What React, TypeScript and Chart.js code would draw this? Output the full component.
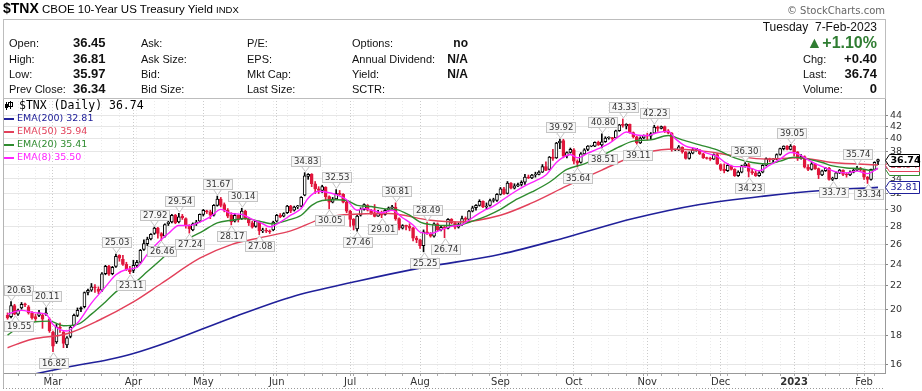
import React, { useEffect, useRef } from 'react';
import { Chart, registerables } from 'chart.js';

Chart.register(...registerables);

// ---------- data ----------
const SYMBOL = '$TNX';
const FIRST_DAY = '2022-02-09';
const LAST_DAY = '2023-02-07';
const MARKET_HOLIDAYS = ['2022-02-21', '2022-04-15', '2022-05-30', '2022-06-20', '2022-07-04', '2022-09-05', '2022-11-24', '2022-12-26', '2023-01-02', '2023-01-16'];

const OPEN = [
  19.5, 19.4, 20.3, 19.6, 20.1, 20.4, 20.2, 19.7, 19.4, 19.5,
  19.5, 19.6, 19.2, 18.2, 17.5, 18.6, 18.2, 17.3, 17.9, 18.7,
  19.5, 20.1, 20.2, 21.4, 21.6, 21.9, 21.7, 21.6, 23.1, 23.8,
  23.1, 23.8, 24.9, 24.5, 24.0, 23.5, 23.4, 23.9, 24.2, 25.5,
  26.1, 26.6, 27.2, 27.8, 27.2, 26.9, 28.3, 28.5, 29.3, 28.5,
  29.2, 28.9, 28.1, 27.6, 28.3, 28.6, 29.4, 29.8, 29.7, 29.3,
  30.5, 31.3, 30.6, 29.9, 29.3, 28.6, 29.3, 28.9, 29.8, 28.9,
  28.4, 28.0, 28.5, 27.5, 27.5, 27.5, 27.6, 28.6, 29.3, 29.2,
  29.6, 30.4, 29.9, 30.3, 30.4, 31.8, 34.3, 34.6, 33.3, 32.6,
  32.4, 32.8, 31.6, 30.9, 31.3, 32.0, 31.9, 30.9, 29.8, 28.8,
  27.7, 29.3, 30.0, 30.5, 29.9, 29.6, 29.2, 29.6, 29.4, 29.9,
  30.2, 30.3, 28.9, 27.8, 28.1, 28.0, 27.8, 26.7, 26.5, 25.9,
  27.4, 27.2, 26.9, 28.3, 27.6, 27.9, 27.8, 28.8, 28.4, 27.9,
  28.2, 28.9, 28.8, 29.8, 30.2, 30.5, 31.0, 30.3, 30.5, 31.1,
  31.1, 31.9, 32.6, 32.0, 33.4, 32.7, 33.0, 33.2, 33.5, 34.2,
  34.1, 34.5, 34.6, 34.9, 35.7, 35.3, 37.1, 37.0, 39.3, 39.7,
  37.3, 37.8, 38.2, 36.5, 36.3, 37.6, 38.3, 38.8, 38.8, 39.4,
  39.0, 39.5, 40.1, 40.1, 40.1, 41.3, 42.3, 42.1, 42.4, 41.0,
  40.3, 39.3, 40.1, 40.5, 40.4, 40.9, 41.9, 41.7, 42.0, 41.3,
  40.9, 38.2, 38.2, 38.6, 37.9, 36.9, 37.7, 38.3, 38.2, 37.6,
  37.0, 36.9, 36.8, 37.5, 36.0, 35.3, 35.1, 35.8, 35.3, 34.4,
  34.9, 35.8, 36.0, 35.0, 34.8, 34.4, 34.9, 35.9, 36.9, 36.7,
  36.8, 37.5, 38.4, 38.8, 38.3, 38.8, 37.9, 36.9, 37.2, 35.6,
  35.3, 36.1, 35.4, 34.5, 35.1, 35.5, 33.9, 34.0, 34.8, 35.2,
  34.6, 34.5, 34.9, 35.2, 35.5, 35.2, 34.2, 33.9, 35.3, 36.45,
];
const HIGH = [
  19.7, 20.63, 20.4, 20.0, 20.55, 20.5, 20.3, 19.8, 19.6, 19.9,
  19.6, 20.11, 19.3, 18.3, 18.8, 18.9, 18.3, 17.9, 18.7, 19.6,
  20.1, 20.2, 21.45, 21.7, 22.2, 22.1, 21.9, 23.2, 23.9, 23.9,
  23.8, 25.03, 24.95, 24.9, 24.2, 23.8, 24.4, 24.4, 25.5, 26.5,
  26.8, 27.2, 27.92, 27.9, 27.3, 28.3, 28.6, 29.4, 29.4, 29.54,
  29.4, 29.0, 28.2, 28.4, 28.7, 29.45, 30.0, 29.9, 29.9, 30.6,
  31.67, 31.5, 30.8, 30.1, 29.6, 29.5, 29.35, 30.14, 29.9, 29.0,
  28.6, 28.7, 28.6, 27.8, 27.8, 27.6, 28.6, 29.4, 29.5, 29.6,
  30.5, 30.5, 30.4, 30.5, 31.6, 34.83, 34.7, 34.7, 33.6, 32.9,
  33.1, 32.9, 31.7, 31.5, 32.53, 32.4, 32.0, 31.0, 29.9, 28.9,
  29.3, 30.2, 30.7, 30.6, 30.0, 30.6, 29.9, 29.8, 30.0, 30.3,
  30.5, 30.81, 29.0, 28.2, 28.15, 28.3, 27.9, 26.9, 26.6, 27.6,
  28.49, 27.3, 28.4, 28.4, 28.0, 28.1, 28.9, 28.9, 28.5, 28.4,
  29.2, 29.1, 29.9, 30.4, 30.6, 31.2, 31.05, 30.8, 31.3, 31.4,
  32.0, 32.8, 32.8, 33.6, 33.45, 33.3, 33.4, 33.7, 34.6, 34.5,
  34.6, 34.9, 35.1, 36.0, 36.4, 37.2, 38.3, 39.4, 39.92, 39.9,
  37.9, 38.5, 38.4, 36.7, 37.8, 38.4, 38.9, 38.9, 39.5, 39.6,
  40.8, 40.3, 40.3, 40.2, 41.4, 42.4, 43.33, 42.5, 42.45, 41.1,
  40.4, 40.3, 40.6, 40.9, 41.0, 42.23, 42.1, 42.1, 42.1, 41.5,
  41.0, 38.3, 38.9, 38.7, 37.95, 37.9, 38.5, 38.4, 38.3, 37.7,
  37.1, 37.1, 37.6, 37.7, 36.1, 36.1, 36.1, 35.9, 35.4, 35.1,
  35.9, 36.3, 36.2, 35.3, 35.1, 35.0, 36.0, 37.0, 36.95, 36.9,
  37.6, 38.5, 38.85, 38.9, 39.05, 38.9, 37.95, 37.5, 37.3, 36.0,
  36.3, 36.15, 35.5, 35.2, 35.6, 35.6, 34.2, 34.9, 35.3, 35.25,
  34.8, 35.1, 35.3, 35.74, 35.6, 35.3, 34.3, 35.35, 36.4, 36.81,
];
const LOW = [
  19.2, 19.3, 19.55, 19.5, 20.0, 20.2, 19.6, 19.2, 19.1, 19.4,
  18.5, 19.5, 18.2, 16.82, 17.4, 18.2, 17.1, 17.1, 17.8, 18.65,
  19.4, 19.8, 20.1, 21.2, 21.5, 21.4, 21.3, 21.5, 23.0, 22.95,
  23.0, 23.7, 24.3, 23.9, 23.4, 23.11, 23.2, 23.7, 24.1, 25.4,
  25.9, 26.5, 27.1, 26.7, 26.46, 26.8, 28.1, 28.4, 28.3, 28.4,
  28.8, 27.8, 27.24, 27.5, 28.1, 28.5, 29.2, 29.5, 28.9, 29.2,
  30.4, 30.3, 29.7, 29.0, 28.17, 28.5, 28.5, 28.8, 28.8, 28.1,
  27.8, 27.9, 27.08, 27.3, 27.3, 27.2, 27.5, 28.5, 29.0, 29.1,
  29.5, 29.6, 29.8, 30.1, 30.3, 31.7, 33.9, 32.9, 32.0, 32.0,
  32.1, 31.2, 30.05, 30.8, 31.2, 31.8, 30.8, 29.6, 28.0, 27.6,
  27.46, 29.2, 29.9, 29.8, 29.4, 29.1, 29.15, 29.01, 29.3, 29.8,
  30.0, 28.7, 27.6, 27.7, 27.6, 27.5, 26.4, 26.2, 25.6, 25.25,
  27.1, 26.8, 26.8, 27.5, 27.5, 26.74, 27.7, 28.3, 27.7, 27.8,
  28.1, 28.6, 28.75, 29.7, 29.9, 30.4, 30.2, 30.0, 30.4, 30.9,
  31.0, 31.8, 31.9, 31.95, 32.6, 32.6, 32.9, 33.0, 33.2, 34.0,
  34.0, 34.2, 34.5, 34.85, 35.1, 35.2, 36.6, 36.9, 38.4, 37.0,
  37.0, 37.7, 36.1, 35.64, 36.2, 37.5, 38.1, 38.7, 38.7, 38.9,
  38.51, 39.4, 39.9, 39.6, 40.05, 41.2, 41.9, 41.6, 40.9, 40.1,
  39.11, 39.2, 40.0, 39.8, 39.9, 40.8, 41.2, 41.6, 41.0, 40.8,
  38.0, 38.1, 38.1, 37.7, 36.8, 36.8, 37.6, 38.0, 37.5, 36.9,
  36.8, 36.6, 36.75, 36.0, 35.1, 34.8, 35.0, 35.2, 34.3, 34.3,
  34.8, 35.6, 34.23, 34.6, 34.3, 34.3, 34.8, 35.8, 36.4, 36.3,
  36.7, 37.4, 38.2, 38.2, 38.2, 37.3, 36.6, 36.8, 35.5, 35.1,
  35.2, 35.3, 34.0, 34.4, 35.0, 33.8, 33.73, 33.95, 34.7, 34.4,
  34.2, 34.4, 34.8, 35.1, 35.0, 33.9, 33.34, 33.8, 35.2, 35.97,
];
const CLOSE = [
  19.3, 20.3, 19.6, 19.9, 20.4, 20.35, 19.7, 19.3, 19.25, 19.7,
  19.2, 19.7, 18.3, 17.2, 18.6, 18.5, 17.4, 17.8, 18.6, 19.5,
  19.9, 20.0, 21.4, 21.6, 21.9, 21.8, 21.5, 23.1, 23.8, 23.05,
  23.7, 24.8, 24.6, 24.0, 23.5, 23.3, 23.9, 24.2, 25.4, 26.1,
  26.6, 27.1, 27.8, 27.2, 26.9, 28.2, 28.5, 29.3, 28.4, 29.1,
  29.0, 28.1, 27.7, 28.3, 28.5, 29.4, 29.9, 29.7, 29.3, 30.5,
  31.3, 30.5, 29.9, 29.2, 28.5, 29.3, 28.8, 29.8, 28.9, 28.4,
  27.9, 28.6, 27.5, 27.55, 27.45, 27.4, 28.5, 29.3, 29.1, 29.5,
  30.4, 29.8, 30.3, 30.45, 31.5, 34.4, 34.6, 33.3, 32.6, 32.4,
  32.9, 31.6, 30.9, 31.3, 32.0, 31.9, 30.9, 29.8, 28.8, 28.1,
  29.2, 30.0, 30.6, 29.9, 29.6, 29.15, 29.6, 29.3, 29.9, 30.2,
  30.3, 28.9, 27.8, 28.1, 28.0, 27.8, 26.7, 26.5, 25.9, 27.4,
  27.2, 26.9, 28.3, 27.6, 27.9, 27.8, 28.8, 28.4, 27.9, 28.2,
  28.9, 28.8, 29.8, 30.2, 30.5, 31.0, 30.3, 30.4, 31.1, 31.15,
  31.9, 32.6, 31.95, 33.4, 32.7, 33.0, 33.2, 33.5, 34.2, 34.1,
  34.5, 34.55, 34.9, 35.7, 35.15, 37.1, 36.9, 39.3, 39.6, 37.3,
  37.8, 38.3, 36.5, 36.2, 37.6, 38.2, 38.8, 38.85, 39.4, 39.0,
  39.5, 40.1, 40.15, 40.0, 41.3, 42.3, 42.2, 42.4, 41.0, 40.3,
  39.3, 40.1, 40.5, 40.4, 40.8, 41.9, 41.7, 42.0, 41.3, 40.9,
  38.2, 38.25, 38.7, 37.9, 36.9, 37.7, 38.2, 38.35, 37.6, 37.0,
  36.9, 36.8, 37.5, 36.1, 35.3, 35.1, 35.9, 35.3, 34.4, 34.9,
  35.8, 36.1, 35.0, 34.8, 34.4, 34.8, 35.9, 36.9, 36.7, 36.8,
  37.5, 38.4, 38.8, 38.3, 38.8, 37.9, 36.9, 37.2, 35.6, 35.3,
  36.1, 35.4, 34.5, 35.1, 35.5, 33.9, 34.0, 34.8, 35.2, 34.6,
  34.5, 34.9, 35.2, 35.5, 35.2, 34.2, 33.9, 35.3, 36.34, 36.74,
];

// moving averages (bar index, value)
const EMA200_IDX = [0, 17, 29, 36, 46, 64, 81, 100, 119, 141, 160, 179, 198, 217, 233, 249];
const EMA200_VAL = [15.0, 15.8, 16.3, 16.7, 17.5, 19.3, 21.0, 22.4, 23.7, 25.0, 26.8, 28.9, 30.6, 31.7, 32.4, 32.81];
const EMA50_IDX = [0, 7, 17, 26, 36, 44, 55, 64, 73, 81, 90, 95, 109, 121, 129, 141, 150, 160, 170, 179, 189, 198, 208, 217, 226, 236, 249];
const EMA50_VAL = [17.1, 17.7, 18.1, 19.1, 20.6, 22.2, 24.6, 26.0, 26.8, 27.5, 28.9, 29.3, 29.5, 28.7, 28.5, 29.3, 30.8, 33.0, 35.2, 37.2, 38.3, 38.1, 37.3, 36.8, 37.0, 36.3, 35.94];
const EMA20_IDX = [0, 4, 8, 12, 16, 20, 24, 28, 32, 36, 40, 44, 48, 52, 56, 60, 64, 68, 72, 76, 80, 84, 87, 90, 94, 97, 100, 104, 108, 111, 115, 118, 121, 125, 129, 133, 137, 141, 145, 150, 155, 160, 165, 170, 175, 179, 184, 189, 193, 198, 203, 208, 213, 217, 221, 225, 229, 233, 236, 240, 244, 247, 249];
const EMA20_VAL = [18.0, 18.7, 19.0, 19.05, 18.7, 18.8, 19.6, 20.6, 21.7, 22.2, 23.3, 24.5, 25.8, 26.7, 27.5, 28.4, 28.7, 28.9, 28.6, 28.3, 28.7, 29.3, 30.5, 31.1, 31.2, 31.1, 30.5, 30.35, 30.07, 30.0, 29.3, 28.5, 28.2, 28.1, 28.15, 28.6, 29.2, 30.0, 31.1, 32.2, 33.5, 35.3, 36.1, 37.3, 38.7, 39.6, 39.8, 40.5, 39.8, 39.0, 38.2, 37.0, 36.3, 36.1, 36.5, 37.1, 36.8, 36.3, 35.8, 35.5, 35.4, 35.15, 35.41];
const EMA8_IDX = [0, 4, 8, 11, 13, 17, 20, 24, 28, 31, 34, 37, 40, 43, 46, 49, 52, 55, 58, 61, 64, 67, 70, 73, 75, 78, 81, 84, 86, 89, 91, 94, 97, 100, 102, 105, 107, 110, 113, 116, 118, 121, 124, 127, 130, 133, 136, 139, 142, 145, 148, 151, 154, 157, 159, 161, 163, 166, 169, 172, 175, 177, 180, 183, 186, 189, 191, 194, 197, 200, 203, 205, 208, 211, 213, 215, 218, 221, 224, 226, 229, 232, 235, 237, 240, 243, 246, 248, 249];
const EMA8_VAL = [19.6, 19.9, 19.7, 19.6, 18.8, 18.3, 18.9, 20.5, 21.9, 23.0, 23.5, 23.7, 25.0, 26.2, 27.2, 28.1, 28.1, 28.5, 29.1, 30.0, 29.5, 29.4, 28.8, 28.3, 27.95, 28.5, 29.3, 30.1, 31.4, 32.3, 32.2, 31.85, 31.2, 29.9, 30.1, 29.8, 29.6, 29.9, 29.0, 28.15, 27.35, 27.2, 27.6, 28.0, 28.2, 29.0, 29.8, 30.4, 31.3, 32.2, 33.0, 33.7, 34.5, 36.3, 37.1, 37.5, 37.0, 37.7, 38.4, 39.2, 40.4, 41.1, 40.6, 40.5, 41.0, 41.2, 40.0, 38.8, 38.4, 37.7, 37.2, 36.4, 35.7, 35.7, 35.4, 35.1, 35.9, 36.8, 37.8, 37.6, 36.7, 35.9, 35.3, 34.95, 34.8, 35.05, 34.7, 35.15, 35.50];

const HIGH_LABEL_IDX = [1, 11, 31, 42, 49, 60, 67, 85, 94, 111, 120, 158, 170, 176, 185, 211, 224, 243];
const LOW_LABEL_IDX = [2, 13, 35, 44, 52, 64, 72, 92, 100, 107, 119, 125, 163, 170, 180, 212, 236, 246];

const Y_TICKS = [16, 18, 20, 22, 24, 26, 28, 30, 32, 34, 36, 38, 40, 42, 44];
const MONTH_LABELS = ['Jan', 'Feb', 'Mar', 'Apr', 'May', 'Jun', 'Jul', 'Aug', 'Sep', 'Oct', 'Nov', 'Dec'];

// ---------- layout / style ----------
const W = 922;
const H = 391;
const X_MIN = -1.3;
const X_MAX = 251.0;
const Y_MIN = 15.43;
const Y_MAX = 47.18;
const UP = '#000000';
const DOWN = '#e0163c';
const C200 = '#20209a';
const C50 = '#e2405a';
const C20 = '#2e8b2e';
const C8 = '#ff22ff';
const DV = '"DejaVu Sans", Verdana, sans-serif';
const LS = '"Liberation Sans", Arial, sans-serif';

function buildTradingDays(): string[] {
  const out: string[] = [];
  const d = new Date(FIRST_DAY + 'T12:00:00Z');
  const end = new Date(LAST_DAY + 'T12:00:00Z').getTime();
  while (d.getTime() <= end) {
    const iso = d.toISOString().slice(0, 10);
    const wd = d.getUTCDay();
    if (wd !== 0 && wd !== 6 && !MARKET_HOLIDAYS.includes(iso)) out.push(iso);
    d.setUTCDate(d.getUTCDate() + 1);
  }
  return out;
}

const DATES = buildTradingDays();
const dow = (s: string) => new Date(s + 'T12:00:00Z').getUTCDay();
const MONTH_START = new Set<number>();
const TICK_SET = new Set<number>();
DATES.forEach((d, i) => {
  if (i === 0) return;
  if (d.slice(5, 7) !== DATES[i - 1].slice(5, 7)) { MONTH_START.add(i); TICK_SET.add(i); }
  if (dow(d) <= dow(DATES[i - 1])) TICK_SET.add(i);
});
const X_TICKS = Array.from(TICK_SET).sort((a, b) => a - b);

const monthLabel = (i: number) => {
  const d = DATES[i];
  const m = parseInt(d.slice(5, 7), 10) - 1;
  return m === 0 ? d.slice(0, 4) : MONTH_LABELS[m];
};

const last = CLOSE.length - 1;
const candleColor = CLOSE.map((c, i) => ((i === 0 ? c >= OPEN[0] : c >= CLOSE[i - 1]) ? UP : DOWN));
const bodyFill = CLOSE.map((c, i) => (c > OPEN[i] ? '#ffffff' : candleColor[i]));

const EMAS = [
  { period: 200, idx: EMA200_IDX, val: EMA200_VAL, color: C200 },
  { period: 50, idx: EMA50_IDX, val: EMA50_VAL, color: C50 },
  { period: 20, idx: EMA20_IDX, val: EMA20_VAL, color: C20 },
  { period: 8, idx: EMA8_IDX, val: EMA8_VAL, color: C8 },
];

// ---------- plugins ----------
const framePlugin = {
  id: 'frame',
  afterDraw(chart: any) {
    const { ctx, chartArea: a } = chart;
    ctx.save();
    ctx.strokeStyle = '#b4b4b4';
    ctx.lineWidth = 1;
    ctx.beginPath();
    ctx.moveTo(a.left + 0.5, a.top);
    ctx.lineTo(a.left + 0.5, chart.height - 2);
    ctx.stroke();
    ctx.setLineDash([1, 2]);
    ctx.strokeStyle = '#999';
    ctx.beginPath();
    ctx.moveTo(a.left, chart.height - 2.5);
    ctx.lineTo(a.right, chart.height - 2.5);
    ctx.stroke();
    ctx.restore();
  },
};

const hlLabelPlugin = {
  id: 'hlLabels',
  afterDatasetsDraw(chart: any) {
    const { ctx, chartArea: a } = chart;
    const xs = chart.scales.x;
    const ys = chart.scales.y;
    ctx.save();
    ctx.font = `8.5px ${DV}`;
    ctx.textBaseline = 'middle';
    ctx.lineWidth = 1;
    const draw = (i: number, val: number, above: boolean) => {
      const px = Math.round(xs.getPixelForValue(i)) + 0.5;
      const py = ys.getPixelForValue(val);
      const text = val.toFixed(2);
      const w = Math.round(ctx.measureText(text).width + 6);
      const h = 11;
      let bx = Math.round(px - w / 2);
      bx = Math.max(a.left + 1, Math.min(a.right - w - 1, bx));
      const gap = 1;
      const ptr = 5;
      const by = Math.round(above ? py - gap - ptr - h : py + gap + ptr);
      ctx.beginPath();
      if (above) {
        ctx.moveTo(px - 4, by + h - 0.5);
        ctx.lineTo(px, py - gap);
        ctx.lineTo(px + 4, by + h - 0.5);
      } else {
        ctx.moveTo(px - 4, by + 0.5);
        ctx.lineTo(px, py + gap);
        ctx.lineTo(px + 4, by + 0.5);
      }
      ctx.fillStyle = '#ffffff';
      ctx.fill();
      ctx.strokeStyle = '#c4c4c4';
      ctx.stroke();
      ctx.fillStyle = '#f7f7f7';
      ctx.fillRect(bx, by, w, h);
      ctx.strokeRect(bx + 0.5, by + 0.5, w - 1, h - 1);
      ctx.fillStyle = '#333';
      ctx.fillText(text, bx + 3, by + h / 2 + 0.5);
    };
    HIGH_LABEL_IDX.forEach((i) => draw(i, HIGH[i], true));
    LOW_LABEL_IDX.forEach((i) => draw(i, LOW[i], false));
    ctx.restore();
  },
};

const legendPlugin = {
  id: 'legendText',
  afterDraw(chart: any) {
    const { ctx, chartArea: a } = chart;
    const x0 = a.left;
    const y0 = a.top + 8;
    ctx.save();
    // small candle glyph
    ctx.fillStyle = '#000';
    ctx.fillRect(x0 + 3, y0 - 4, 1, 8);
    ctx.fillRect(x0 + 2, y0 - 2, 3, 4);
    ctx.fillRect(x0 + 7, y0 - 5, 1, 8);
    ctx.strokeStyle = '#000';
    ctx.lineWidth = 1;
    ctx.strokeRect(x0 + 5.5, y0 - 3.5, 4, 4);
    ctx.textBaseline = 'middle';
    ctx.font = `11.5px "DejaVu Sans Mono", monospace`;
    ctx.fillText(`${SYMBOL} (Daily) ${CLOSE[last].toFixed(2)}`, x0 + 16, y0);
    ctx.font = `9.5px ${DV}`;
    EMAS.forEach((e, k) => {
      const y = y0 + 13 * (k + 1);
      ctx.strokeStyle = e.color;
      ctx.lineWidth = 2;
      ctx.beginPath();
      ctx.moveTo(x0 + 1, y);
      ctx.lineTo(x0 + 11, y);
      ctx.stroke();
      ctx.fillStyle = e.color;
      ctx.fillText(`EMA(${e.period}) ${e.val[e.val.length - 1].toFixed(2)}`, x0 + 14, y);
    });
    ctx.restore();
  },
};

const tagPlugin = {
  id: 'valueTags',
  afterDraw(chart: any) {
    const { ctx, chartArea: a } = chart;
    const ys = chart.scales.y;
    ctx.save();
    const tag = (v: number, color: string, bold: boolean) => {
      const y = Math.round(ys.getPixelForValue(v)) + 0.5;
      const x0 = a.right + 0.5;
      const x1 = x0 + 4;
      const x2 = chart.width - 2.5;
      const h = 12;
      ctx.beginPath();
      ctx.moveTo(x0, y);
      ctx.lineTo(x1, y - h / 2);
      ctx.lineTo(x2, y - h / 2);
      ctx.lineTo(x2, y + h / 2);
      ctx.lineTo(x1, y + h / 2);
      ctx.closePath();
      ctx.fillStyle = '#ffffff';
      ctx.fill();
      ctx.strokeStyle = color;
      ctx.lineWidth = 1;
      ctx.stroke();
      ctx.fillStyle = color;
      ctx.font = `${bold ? 'bold ' : ''}9.5px ${DV}`;
      ctx.textBaseline = 'middle';
      ctx.fillText(v.toFixed(2), x1 + 1, y + 0.5);
    };
    const lastOf = (arr: number[]) => arr[arr.length - 1];
    tag(lastOf(EMA200_VAL), C200, false);
    tag(lastOf(EMA8_VAL), C8, false);
    tag(lastOf(EMA20_VAL), C20, false);
    tag(lastOf(EMA50_VAL), C50, false);
    tag(CLOSE[last], '#000', true);
    ctx.restore();
  },
};

// ---------- component ----------
function Txt(props: { x: number; y: number; children: any; size?: number; bold?: boolean; right?: boolean; color?: string; family?: string }) {
  const size = props.size || 11;
  const lh = 14;
  const style: any = {
    position: 'absolute',
    top: props.y - lh / 2,
    lineHeight: lh + 'px',
    fontSize: size,
    fontFamily: props.family || LS,
    fontWeight: props.bold ? 'bold' : 'normal',
    color: props.color || '#111',
    whiteSpace: 'nowrap',
  };
  if (props.right) style.right = W - props.x;
  else style.left = props.x;
  return <div style={style}>{props.children}</div>;
}

export default function App() {
  const ref = useRef<HTMLCanvasElement>(null);

  useEffect(() => {
    const idx = CLOSE.map((_, i) => i);
    const datasets: any[] = [
      {
        type: 'bar',
        data: idx.map((i) => ({ x: i, y: [LOW[i], HIGH[i]] })),
        backgroundColor: candleColor,
        borderWidth: 0,
        barThickness: 1,
        grouped: false,
        order: 6,
      },
      {
        type: 'bar',
        data: idx.map((i) => ({ x: i, y: [OPEN[i], CLOSE[i]] })),
        backgroundColor: bodyFill,
        borderColor: candleColor,
        borderWidth: 1,
        borderSkipped: false,
        barThickness: 3,
        minBarLength: 1,
        grouped: false,
        order: 5,
      },
      ...EMAS.map((e, k) => ({
        type: 'line',
        data: e.idx.map((x, j) => ({ x, y: e.val[j] })),
        borderColor: e.color,
        borderWidth: e.period === 200 ? 1.6 : 1.4,
        pointRadius: 0,
        cubicInterpolationMode: 'monotone',
        fill: false,
        order: 4 - k,
      })),
    ];

    const chart = new Chart(ref.current as HTMLCanvasElement, {
      type: 'line',
      data: { datasets },
      options: {
        responsive: false,
        devicePixelRatio: 1,
        animation: false,
        events: [],
        layout: { padding: { top: 98, left: 3, right: 0, bottom: 0 } },
        plugins: { legend: { display: false }, tooltip: { enabled: false } },
        scales: {
          x: {
            type: 'linear',
            min: X_MIN,
            max: X_MAX,
            offset: false,
            afterBuildTicks: (s: any) => { s.ticks = X_TICKS.map((v) => ({ value: v })); },
            afterFit: (s: any) => { s.height = H - 373; },
            grid: {
              offset: false,
              color: (c: any) => (c.tick && MONTH_START.has(c.tick.value) ? '#cbcbcb' : '#ebebeb'),
              tickColor: '#aaa',
              tickLength: 3,
            },
            border: { display: true, color: '#999', dash: [1, 2] },
            ticks: {
              autoSkip: false,
              maxRotation: 0,
              padding: 0,
              color: '#333',
              font: (c: any) => ({ family: DV, size: 10, weight: c.tick && MONTH_START.has(c.tick.value) && DATES[c.tick.value].slice(5, 7) === '01' ? 'bold' : 'normal' }),
              callback: (v: any) => (MONTH_START.has(v) ? monthLabel(v) : ''),
            },
          },
          y: {
            type: 'logarithmic',
            position: 'right',
            min: Y_MIN,
            max: Y_MAX,
            afterBuildTicks: (s: any) => { s.ticks = Y_TICKS.map((v) => ({ value: v })); },
            afterFit: (s: any) => { s.width = W - 885; },
            grid: { color: '#e6e6e6', tickColor: '#888', tickLength: 3 },
            border: { display: true, color: '#999' },
            ticks: {
              autoSkip: false,
              padding: 2,
              color: '#333',
              font: { family: DV, size: 9.5 },
              callback: (v: any) => String(v),
            },
          },
        },
      } as any,
      plugins: [framePlugin, hlLabelPlugin, legendPlugin, tagPlugin],
    } as any);
    return () => chart.destroy();
  }, []);

  const chg = CLOSE[last] - CLOSE[last - 1];
  const pct = (chg / CLOSE[last - 1]) * 100;
  const rows = [43, 59, 74, 89];

  return (
    <div style={{ position: 'fixed', left: 0, top: 0, width: W, height: H, background: '#fff', overflow: 'hidden' }}>
      <canvas ref={ref} width={W} height={H} style={{ position: 'absolute', left: 0, top: 0, width: W, height: H }} />
      <div style={{ position: 'absolute', left: 3, top: 0, lineHeight: '16px', fontFamily: LS, fontSize: 14, fontWeight: 'bold', color: '#000', whiteSpace: 'nowrap' }}>
        {SYMBOL}
        <span style={{ fontWeight: 'normal', fontSize: 11.5 }}> CBOE 10-Year US Treasury Yield </span>
        <span style={{ fontWeight: 'normal', fontSize: 9.5 }}>INDX</span>
      </div>
      <Txt x={885} y={11} right size={10} family={DV} color="#666">© StockCharts.com</Txt>
      <div style={{ position: 'absolute', left: 3, top: 19, width: 883, height: 80, boxSizing: 'border-box', border: '1px solid #bdbdbd' }} />

      <Txt x={9} y={rows[0]}>Open:</Txt>
      <Txt x={9} y={rows[1]}>High:</Txt>
      <Txt x={9} y={rows[2]}>Low:</Txt>
      <Txt x={9} y={rows[3]}>Prev Close:</Txt>
      <Txt x={73} y={rows[0]} bold size={13}>{OPEN[last].toFixed(2)}</Txt>
      <Txt x={73} y={rows[1]} bold size={13}>{HIGH[last].toFixed(2)}</Txt>
      <Txt x={73} y={rows[2]} bold size={13}>{LOW[last].toFixed(2)}</Txt>
      <Txt x={73} y={rows[3]} bold size={13}>{CLOSE[last - 1].toFixed(2)}</Txt>

      <Txt x={141} y={rows[0]}>Ask:</Txt>
      <Txt x={141} y={rows[1]}>Ask Size:</Txt>
      <Txt x={141} y={rows[2]}>Bid:</Txt>
      <Txt x={141} y={rows[3]}>Bid Size:</Txt>

      <Txt x={247} y={rows[0]}>P/E:</Txt>
      <Txt x={247} y={rows[1]}>EPS:</Txt>
      <Txt x={247} y={rows[2]}>Mkt Cap:</Txt>
      <Txt x={247} y={rows[3]}>Last Size:</Txt>

      <Txt x={352} y={rows[0]}>Options:</Txt>
      <Txt x={352} y={rows[1]}>Annual Dividend:</Txt>
      <Txt x={352} y={rows[2]}>Yield:</Txt>
      <Txt x={352} y={rows[3]}>SCTR:</Txt>
      <Txt x={468} y={rows[0]} right bold size={12}>no</Txt>
      <Txt x={468} y={rows[1]} right bold size={12}>N/A</Txt>
      <Txt x={468} y={rows[2]} right bold size={12}>N/A</Txt>

      <Txt x={877} y={27} right size={12}>Tuesday&nbsp;&nbsp;7-Feb-2023</Txt>
      <Txt x={877} y={43} right size={16} bold color="#2f7d32">{'\u25B2'}{(chg >= 0 ? '+' : '') + pct.toFixed(2)}%</Txt>
      <Txt x={803} y={rows[1]}>Chg:</Txt>
      <Txt x={803} y={rows[2]}>Last:</Txt>
      <Txt x={803} y={rows[3]}>Volume:</Txt>
      <Txt x={877} y={rows[1]} right bold size={13}>{(chg >= 0 ? '+' : '') + chg.toFixed(2)}</Txt>
      <Txt x={877} y={rows[2]} right bold size={13}>{CLOSE[last].toFixed(2)}</Txt>
      <Txt x={877} y={rows[3]} right bold size={13}>0</Txt>
    </div>
  );
}
